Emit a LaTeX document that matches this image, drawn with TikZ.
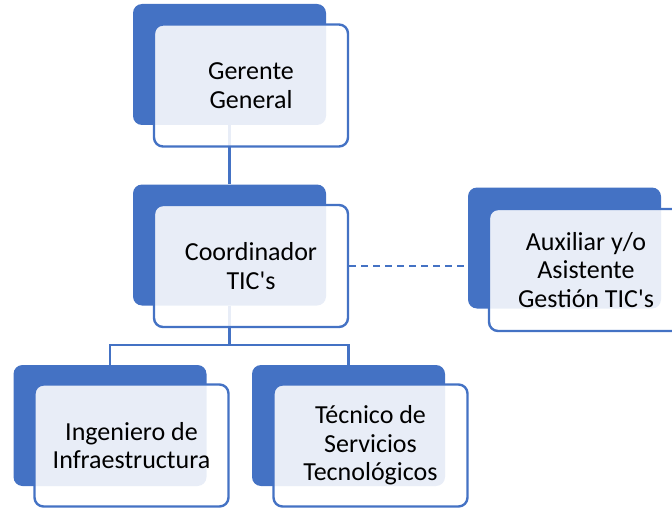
\documentclass[tikz,border=0pt]{standalone}
\usepackage{fontspec}
\setmainfont{Carlito}
\newfontfamily\calib{Carlito}
\definecolor{sablue}{HTML}{4472C4}
\begin{document}
\begin{tikzpicture}[x=1pt,y=-1pt,
  backbox/.style={draw=none,fill=sablue,rounded corners=9pt,minimum width=193pt,minimum height=121pt,inner sep=0pt},
  frontbox/.style={draw=sablue,line width=2.4pt,fill=white,fill opacity=0.88,text opacity=1,rounded corners=9pt,minimum width=194pt,minimum height=122pt,inner sep=0pt,align=center,font=\calib\fontsize{26}{28.5}\selectfont},
  link/.style={draw=sablue,line width=2.6pt}]
\clip (0,0) rectangle (672,508);
% back boxes
\node[backbox] (gB) at (229.5,64.5) {};
\node[backbox] (cB) at (229.5,245) {};
\node[backbox] (aB) at (564.5,248) {};
\node[backbox] (iB) at (110,425.5) {};
\node[backbox] (tB) at (348.5,425.5) {};
% connectors
\draw[link] (gB.south) -- (cB.north);
\draw[link] (cB.south) -- (cB.south |- 0,345);
\draw[link] (iB.north) -- ++(0,-20) -| (tB.north);
% front boxes
\node[frontbox] (gW) at (251,85.5) {Gerente\\General};
\node[frontbox] (cW) at (251,266) {Coordinador\\TIC's};
\node[frontbox] (aW) at (586,270) {Auxiliar y/o\\Asistente\\Gestión TIC's};
\node[frontbox] (iW) at (131.5,445.5) {Ingeniero de\\Infraestructura};
\node[frontbox] (tW) at (370.5,445.5) {Técnico de\\Servicios\\Tecnológicos};
\draw[link,dash pattern=on 7pt off 5pt] (cW.east) -- (cW.east -| aB.west);
\end{tikzpicture}
\end{document}
